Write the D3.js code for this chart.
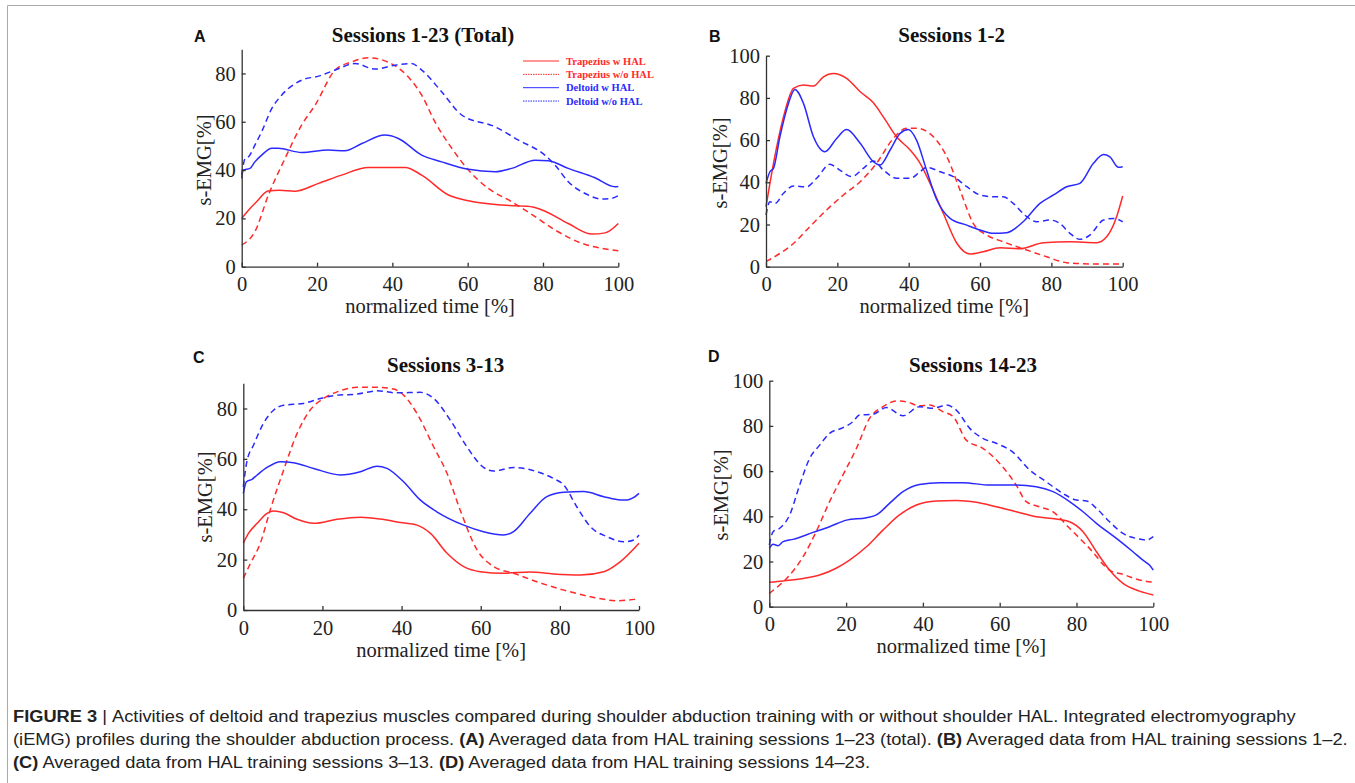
<!DOCTYPE html>
<html>
<head>
<meta charset="utf-8">
<script src="https://d3js.org/d3.v7.min.js"></script>
<style>
  body { margin: 0; background: #fff; }
  svg { display: block; }
</style>
</head>
<body>
<svg id="svg"></svg>
<script>
// ---- data ----
const seriesNames = ["Trapezius w HAL", "Trapezius w/o HAL", "Deltoid w HAL", "Deltoid w/o HAL"];
const xTicks = [0, 20, 40, 60, 80, 100];
const yTicks90 = [0, 20, 40, 60, 80];
const yTicks100 = [0, 20, 40, 60, 80, 100];

// panel A: sessions 1-23
const aTrapW = [[0,20],[1.8,23.4],[4,27],[7,31.3],[10,31.6],[14,31.2],[20.4,34.5],[26.5,37.9],[33.6,41.1],[43.4,41.1],[47.8,37.9],[54.9,29.7],[60.2,27.3],[69,25.5],[76,25],[79.6,23.6],[86.7,17.9],[93,13.5],[96.5,14],[100,17.9]];
const aTrapWo = [[0,9],[3.5,14.5],[7.1,29.7],[11.5,44.8],[15.9,58.6],[19.5,66.9],[24.8,81.4],[29.2,84.8],[33.6,86.5],[39.8,84],[44.2,78.6],[47.8,71],[51.3,60],[55.8,49],[60.2,40],[65.5,32.4],[71.7,26.9],[77.9,20.7],[83.2,15.2],[90.3,9.7],[95.6,7.6],[100,6.6]];
const aDeltW = [[0,36.6],[0.4,40],[2.2,40.7],[3.5,43.4],[5.3,46.2],[8,49],[9.7,49],[15.9,47.3],[23,48.3],[27.4,48],[31.9,51],[38,54.5],[41.6,53.1],[47.8,46.2],[53.1,43.4],[60.2,40.3],[67.3,39.3],[71.7,40.7],[77.9,44.1],[81.4,43.9],[86.7,40.7],[93.8,36.8],[99.1,33.1],[100,33.2]];
const aDeltWo = [[0,38],[0.9,44.8],[1.8,45.5],[3.5,50.3],[5.3,55.9],[8,65.5],[10.6,71],[15.9,77.2],[20.4,78.9],[24.8,81.4],[30.1,84.1],[35.4,81.8],[40.7,83.4],[45.1,84.1],[47.8,81.4],[53.1,72.4],[58.4,62.8],[67.3,57.9],[73.5,52.4],[80.5,46.2],[83.2,42.1],[86.7,35.2],[91.2,30.3],[95.6,28],[98.2,28.3],[100,29.4]];

// panel B: sessions 1-2
const bTrapW = [[0,28.4],[2.1,49],[4.9,71],[7.7,84.5],[10.5,86.1],[13.3,85.6],[16.1,90],[18.9,91.6],[22.6,89.3],[26.4,82.9],[30.1,77.7],[32.9,71],[36.6,61.6],[40.4,55.3],[43.2,49],[46,39.5],[49.7,25.3],[53.5,11.1],[57.2,6],[60.9,7.1],[65.6,9],[71.2,8.5],[77.8,11.4],[85.2,11.8],[92.7,11.4],[95.5,14.2],[98.3,23.7],[100,33.5]];
const bTrapWo = [[0,2.4],[3.9,6.3],[7.7,11],[12.3,19],[17,26.9],[21.7,34],[26.4,40.3],[31,49],[35.7,60.8],[39.4,65.6],[42.2,65.6],[46.9,61.6],[50.7,52.1],[54.4,36.3],[58.1,20.5],[61.9,15],[66.5,11.8],[73.1,7.9],[78.7,4.7],[84.3,1.9],[91.8,1.3],[100,1.3]];
const bDeltW = [[0,39.5],[1.1,45],[2.1,46.6],[3.9,61.6],[6.3,77.4],[8.1,84],[10.5,77.4],[13.3,61.6],[16.5,54.5],[19.8,60.8],[22.6,65],[26.4,58.5],[30.1,49.8],[32,48.2],[34.8,55.3],[37.6,63.2],[39.9,65],[42.2,60],[45,45.8],[47.9,31.6],[51.6,22.9],[56.3,19.7],[60,17.4],[63.7,15.8],[67.5,16.1],[72.1,21.3],[76.8,30],[80.6,34],[84.3,37.9],[88,39.5],[91.8,49],[94.6,53.2],[96.4,52.1],[98.8,47.1],[100,47.4]];
const bDeltWo = [[0,24.5],[1.1,30.8],[2.5,30],[4.9,34.8],[7.7,38.2],[11.4,37.9],[14.2,41.9],[17.9,48.5],[20.7,45.8],[24,42.7],[27.3,46.6],[30.1,50.1],[32.9,45.8],[36.6,41.9],[40.4,41.9],[43.2,45],[45,47.1],[48.8,45],[52.5,42.7],[56.3,37.9],[60,34],[63.7,33.2],[66.5,33.2],[69.3,30],[73.1,23.7],[75.9,21.3],[79.6,22.1],[82.4,20.5],[85.2,15.8],[88,13],[90.8,15],[94.6,22.1],[97.4,22.9],[100,21.3]];

// panel C: sessions 3-13
const cTrapW = [[0,26.5],[1.3,30.4],[3.5,34.4],[6,38.4],[7.7,39.3],[10.2,38.6],[13.6,36],[17.8,34.4],[23.7,36],[29.6,36.8],[34.6,36.1],[39.7,34.7],[43.9,33.7],[47.3,30.4],[51.5,22.5],[55.7,17.2],[59.9,15.2],[65.8,14.6],[72.5,15.1],[78.4,14.3],[85.2,13.9],[91.1,15.2],[95.3,19.2],[100,26.5]];
const cTrapWo = [[0,12.6],[1.8,18.5],[4.3,26.5],[6.8,39.7],[10.2,55.6],[13.6,70.1],[16.9,79.4],[20.3,84],[23.7,86.6],[28.7,88.4],[33.8,88.4],[38,87.7],[40.5,85.3],[43.9,78],[48.1,64.8],[51.5,54.2],[54.8,39.7],[59.1,23.8],[63.3,17.2],[68.3,14.6],[74.2,11.2],[81,7.9],[87.7,5.3],[94.4,3.7],[100,4.4]];
const cDeltW = [[0,46.3],[0.8,50.9],[2.2,51.9],[3.5,53.6],[6,56.6],[9.4,58.9],[12.7,58.5],[17.8,56.2],[24.5,53.6],[29.6,54.9],[33.8,57.1],[36.3,56.2],[40.5,50.9],[44.7,43.7],[48.9,39],[55.7,33.7],[60.7,31.1],[65.8,29.8],[68.3,31.1],[72.5,38.4],[76.7,45],[81,46.7],[86,47],[91.1,45],[95.3,43.7],[97,43.7],[98.7,44.7],[100,46.3]];
const cDeltWo = [[0,48.9],[0.9,58.9],[2.6,65.5],[5.1,74.1],[7.7,79.4],[10.2,81.3],[15.2,82],[19.5,84],[23.7,85.3],[28.7,85.7],[33.8,87],[38.8,86.2],[44.7,86.4],[48.1,84],[52.3,75.4],[56.5,64.8],[60.7,56.6],[63.3,55.2],[68.3,56.6],[74.2,54.9],[78.4,52.2],[81,49.6],[84.3,40.9],[87.7,33.1],[91.9,29.1],[96.1,27.1],[98.7,27.8],[100,29.8]];

// panel D: sessions 14-23
const dTrapW = [[0,10.8],[3.6,11.4],[8.8,12.5],[13.1,14],[17.4,17],[20.9,20.6],[25.3,26.5],[29.6,33.9],[33.9,40.6],[38.3,45],[43.5,46.8],[48.7,47],[53.9,46.2],[59.1,44.2],[64.3,42],[69.5,39.8],[74.7,38.8],[78.2,37.6],[81.7,33.2],[85.2,24.3],[88.6,16.2],[92.1,10.3],[96.4,6.9],[100,5.2]];
const dTrapWo = [[0,5.9],[2.7,9.6],[5.3,14],[8.8,22.1],[12.2,33.2],[15.7,46.5],[19.2,58.3],[22.7,70.1],[26.1,83.3],[29.6,88.5],[33.1,91],[35.7,90.7],[39.1,88.9],[41.8,89.2],[45.2,86.3],[47.9,84.1],[51.3,73.7],[55.6,70.1],[60,63.4],[64.3,53.8],[66.9,46.5],[70.4,44.2],[73.9,42],[78.2,34.7],[83.4,25.8],[88.6,16.2],[92.1,14.3],[96.4,11.8],[100,10.8]];
const dDeltW = [[0,25.8],[1,27.6],[2.3,27],[3.6,28.8],[6.2,29.8],[11.4,32.9],[15.7,35.4],[20.1,38.3],[25.3,39.4],[27.9,40.6],[31.3,45.7],[34.8,50.9],[39.1,54.1],[44.4,54.9],[50.4,54.9],[57.4,53.8],[64.3,53.8],[69.5,53.1],[73.9,50.9],[78.2,46.5],[81.7,42],[85.2,36.9],[90.4,30.2],[94.7,24.3],[97.3,20.6],[99,18.4],[100,16.2]];
const dDeltWo = [[0,27.3],[1,33.2],[2.7,34.7],[5.3,40.6],[7.9,53.8],[10.5,65.6],[13.1,71.5],[15.7,76.7],[19.2,79.2],[21.8,81.9],[23.5,84.8],[27,85.1],[30.5,88.1],[34.8,84.5],[39.1,88.5],[42.6,87.8],[46.1,89.2],[48.7,87],[52.2,78.9],[55.6,74.5],[59.1,72.3],[63.5,68.3],[67.8,60.5],[72.1,55.3],[76.5,50.1],[80,47.2],[82.6,46.8],[85.2,43.5],[88.6,37.6],[92.1,32.4],[95.6,30.2],[98.2,29.5],[100,31]];

const RED = "#ff2a2a", BLUE = "#2a2aff";
const colors = [RED, RED, BLUE, BLUE];
const dashes = [null, "6,4", null, "6,4"];

const W = 1355, H = 783;
const svg = d3.select("#svg").attr("width", W).attr("height", H);

// figure frame
svg.append("line").attr("x1", 7.5).attr("x2", W).attr("y1", 5.5).attr("y2", 5.5)
  .attr("stroke", "#aaa").attr("stroke-width", 1);
svg.append("line").attr("x1", 7.5).attr("x2", 7.5).attr("y1", 5.5).attr("y2", H)
  .attr("stroke", "#aaa").attr("stroke-width", 1);

const panels = [
  { tag: "A", title: "Sessions 1-23 (Total)", x0: 241.7, x1: 618.3, y0: 266.7, y1: 49.3, ymax: 90, yt: yTicks90,
    tagX: 194, tagY: 41.7, titleX: 423, titleY: 41.7, ylabX: 211, ylabY: 160, legend: true,
    series: [aTrapW, aTrapWo, aDeltW, aDeltWo] },
  { tag: "B", title: "Sessions 1-2", x0: 766, x1: 1122.7, y0: 266.7, y1: 55.7, ymax: 100, yt: yTicks100,
    tagX: 709, tagY: 41.7, titleX: 951.7, titleY: 41.7, ylabX: 727, ylabY: 163,
    series: [bTrapW, bTrapWo, bDeltW, bDeltWo] },
  { tag: "C", title: "Sessions 3-13", x0: 243.3, x1: 639, y0: 610, y1: 383.3, ymax: 90, yt: yTicks90,
    tagX: 193, tagY: 363.3, titleX: 445.7, titleY: 371.7, ylabX: 212, ylabY: 497,
    series: [cTrapW, cTrapWo, cDeltW, cDeltWo] },
  { tag: "D", title: "Sessions 14-23", x0: 769.3, x1: 1153.3, y0: 606.7, y1: 380.7, ymax: 100, yt: yTicks100,
    tagX: 708, tagY: 362.3, titleX: 973, titleY: 371.7, ylabX: 728, ylabY: 495,
    series: [dTrapW, dTrapWo, dDeltW, dDeltWo] }
];

const serif = "'Liberation Serif', 'Times New Roman', serif";
const sans = "'Liberation Sans', Arial, sans-serif";

panels.forEach(p => {
  const x = d3.scaleLinear().domain([0, 100]).range([p.x0, p.x1]);
  const y = d3.scaleLinear().domain([0, p.ymax]).range([p.y0, p.y1]);
  const g = svg.append("g");

  // curves
  const line = d3.line().x(d => x(d[0])).y(d => y(d[1])).curve(d3.curveMonotoneX);
  p.series.forEach((s, i) => {
    g.append("path").attr("d", line(s)).attr("fill", "none")
      .attr("stroke", colors[i]).attr("stroke-width", 1.5)
      .attr("stroke-dasharray", dashes[i]);
  });

  // axes (inward ticks, no box)
  const xa = g.append("g").attr("transform", `translate(0,${p.y0})`)
    .call(d3.axisBottom(x).tickValues(xTicks).tickSize(-4).tickPadding(10).tickSizeOuter(0));
  const ya = g.append("g").attr("transform", `translate(${p.x0},0)`)
    .call(d3.axisLeft(y).tickValues(p.yt).tickSize(-4).tickPadding(6).tickSizeOuter(0));
  [xa, ya].forEach(a => {
    a.select(".domain").attr("stroke", "#333").attr("stroke-width", 1.3);
    a.selectAll(".tick line").attr("stroke", "#333").attr("stroke-width", 1.3);
    a.selectAll(".tick text").attr("font-family", serif).attr("font-size", 20.5).attr("fill", "#222");
  });

  // labels
  g.append("text").attr("x", (p.x0 + p.x1) / 2).attr("y", p.y0 + 46.5)
    .attr("text-anchor", "middle").attr("font-family", serif).attr("font-size", 20.5)
    .attr("fill", "#222").text("normalized time [%]");
  g.append("text").attr("transform", `translate(${p.ylabX},${p.ylabY}) rotate(-90)`)
    .attr("text-anchor", "middle").attr("font-family", serif).attr("font-size", 20.5)
    .attr("fill", "#222").text("s-EMG[%]");
  g.append("text").attr("x", p.titleX).attr("y", p.titleY).attr("text-anchor", "middle")
    .attr("font-family", serif).attr("font-weight", "bold").attr("font-size", 21)
    .attr("fill", "#111").text(p.title);
  g.append("text").attr("x", p.tagX).attr("y", p.tagY)
    .attr("font-family", sans).attr("font-weight", "bold").attr("font-size", 16)
    .attr("fill", "#111").text(p.tag);

  if (p.legend) {
    const lg = g.append("g");
    seriesNames.forEach((n, i) => {
      const ly = 61 + i * 13.35;
      lg.append("line").attr("x1", 523).attr("x2", 559).attr("y1", ly).attr("y2", ly)
        .attr("stroke", colors[i]).attr("stroke-width", 1)
        .attr("stroke-dasharray", dashes[i] ? "1.5,1" : null);
      lg.append("text").attr("x", 566).attr("y", ly + 3.6)
        .attr("font-family", serif).attr("font-weight", "bold").attr("font-size", 10.5)
        .attr("fill", colors[i]).text(n);
    });
  }
});

// caption: one horizontal stretch factor, taken from the first line's width
const captionLines = [
  { y: 722, parts: [["FIGURE 3", true], [" | ", false], ["Activities of deltoid and trapezius muscles compared during shoulder abduction training with or without shoulder HAL. Integrated electromyography", false]] },
  { y: 745, parts: [["(iEMG) profiles during the shoulder abduction process. ", false], ["(A)", true], [" Averaged data from HAL training sessions 1–23 (total). ", false], ["(B)", true], [" Averaged data from HAL training sessions 1–2.", false]] },
  { y: 768, parts: [["(C)", true], [" Averaged data from HAL training sessions 3–13. ", false], ["(D)", true], [" Averaged data from HAL training sessions 14–23.", false]] }
];
const firstLineWidth = 1282;
let k = 1;
captionLines.forEach((c, i) => {
  const g = svg.append("g");
  const t = g.append("text").attr("x", 0).attr("y", 0)
    .attr("font-family", sans).attr("font-size", 16).attr("fill", "#222");
  c.parts.forEach(pt => {
    t.append("tspan").attr("font-weight", pt[1] ? "bold" : null).text(pt[0]);
  });
  if (i === 0) k = firstLineWidth / t.node().getComputedTextLength();
  g.attr("transform", `translate(13,${c.y}) scale(${k},1)`);
});
</script>
</body>
</html>
